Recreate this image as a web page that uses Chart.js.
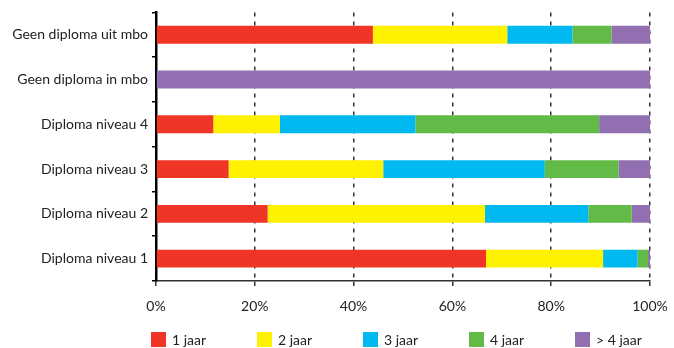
<!DOCTYPE html>
<html lang="nl">
<head>
<meta charset="UTF-8">
<title>Duur opleiding per diploma</title>
<script src="https://cdn.jsdelivr.net/npm/chart.js"></script>
<style>
  html, body { margin: 0; padding: 0; background: #fff; }
  #wrap { position: relative; width: 674px; height: 348px; }
  #legenda {
    position: absolute; left: 151px; top: 331px;
    display: flex; font-family: Lato, "Open Sans", sans-serif; font-size: 14px; color: #222;
  }
  .item { width: 106px; display: flex; align-items: center; height: 16px; }
  .item span.box { width: 15px; height: 15px; margin-right: 6px; }
</style>
</head>
<body>
<div id="wrap">
  <canvas id="grafiek" width="674" height="348"></canvas>
  <div id="legenda"></div>
</div>

<script>
  // categorieën (van boven naar beneden)
  const categorieen = ["Geen diploma uit mbo", "Geen diploma in mbo", "Diploma niveau 4",
                       "Diploma niveau 3", "Diploma niveau 2", "Diploma niveau 1"];

  // aandeel per duur, in procenten
  const jaar1 = [43.9, 0, 11.6, 14.7, 22.6, 66.8];
  const jaar2 = [27.2, 0, 13.5, 31.3, 44.0, 23.7];
  const jaar3 = [13.2, 0, 27.4, 32.7, 20.9, 7.0];
  const jaar4 = [7.9, 0, 37.2, 14.9, 8.8, 2.1];
  const meerDan4 = [7.8, 100, 10.3, 6.4, 3.7, 0.4];

  const reeksNamen = ["1 jaar", "2 jaar", "3 jaar", "4 jaar", "> 4 jaar"];
  const kleuren = ["#ef3526", "#fff200", "#00b9f1", "#62bb46", "#926fb1"];
  const xTicks = [0, 20, 40, 60, 80, 100];

  const reeksen = [jaar1, jaar2, jaar3, jaar4, meerDan4];
  const lettertype = { family: "Lato, 'Open Sans', sans-serif", size: 14 };

  new Chart(document.getElementById("grafiek"), {
    type: "bar",
    data: {
      labels: categorieen,
      datasets: reeksen.map((data, i) => ({
        label: reeksNamen[i],
        data: data,
        backgroundColor: kleuren[i],
        borderWidth: 0,
        barPercentage: 0.8,
        categoryPercentage: 0.5
      }))
    },
    options: {
      indexAxis: "y",
      responsive: false,
      animation: false,
      layout: { padding: { top: 12, right: 24, bottom: 27, left: 0 } },
      plugins: { legend: { display: false }, tooltip: { enabled: false } },
      scales: {
        x: {
          stacked: true,
          min: 0,
          max: 100,
          afterBuildTicks: (schaal) => { schaal.ticks = xTicks.map(v => ({ value: v })); },
          afterFit: (schaal) => {
            schaal.height = 40;
            schaal.paddingRight = 0;
            schaal.paddingLeft = 0;
          },
          border: { display: true, color: "#333", width: 1.5, dash: [4, 5] },
          grid: {
            color: (c) => c.tick && c.tick.value === 0 ? "rgba(0,0,0,0)" : "#333",
            lineWidth: 1.5,
            tickBorderDash: [],
            tickColor: "#333",
            tickLength: 5
          },
          ticks: {
            color: "#222",
            font: lettertype,
            padding: 12,
            callback: (v) => v + "%"
          }
        },
        y: {
          stacked: true,
          afterFit: (schaal) => { schaal.width = 156; },
          border: { display: true, color: "#000", width: 2.5 },
          grid: {
            drawOnChartArea: false,
            color: "#000",
            lineWidth: 1.5,
            tickLength: 4
          },
          ticks: { color: "#222", font: lettertype, padding: 4 }
        }
      }
    }
  });

  // legenda met vaste breedte per item
  const legenda = document.getElementById("legenda");
  reeksNamen.forEach((naam, i) => {
    const el = document.createElement("div");
    el.className = "item";
    el.innerHTML = `<span class="box" style="background:${kleuren[i]}"></span>${naam}`;
    legenda.appendChild(el);
  });
</script>
</body>
</html>
